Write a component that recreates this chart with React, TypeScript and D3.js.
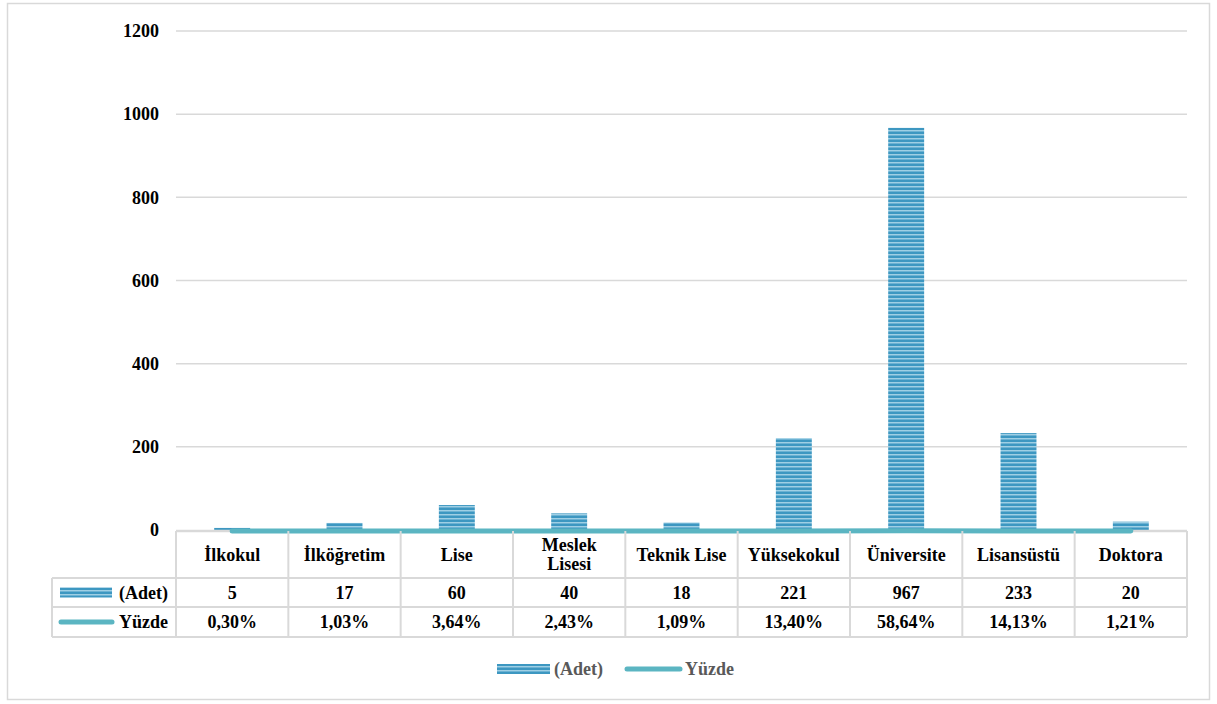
import React from "react";
import * as d3 from "d3";

const categories = ["İlkokul", "İlköğretim", "Lise", "Meslek\nLisesi", "Teknik Lise", "Yüksekokul", "Üniversite", "Lisansüstü", "Doktora"];
const adet = [5, 17, 60, 40, 18, 221, 967, 233, 20];
const yuzde = [0.0030, 0.0103, 0.0364, 0.0243, 0.0109, 0.1340, 0.5864, 0.1413, 0.0121];
const yuzdeLabels = ["0,30%", "1,03%", "3,64%", "2,43%", "1,09%", "13,40%", "58,64%", "14,13%", "1,21%"];
const yTicks = [0, 200, 400, 600, 800, 1000, 1200];

const W = 1217, H = 704;
const left = 176, right = 1187, top = 31, bottom = 530;
const rowTop = 531, row1 = 578, row2 = 607, row3 = 637, legLeft = 52;
const FONT = "'Liberation Serif', 'Times New Roman', 'DejaVu Serif', serif";
const LINE = "#5BB5C2";
const GRID = "#d9d9d9";
const FS = 18;

export default function App() {
  const x = d3.scaleBand<string>().domain(categories).range([left, right]).padding(0);
  const y = d3.scaleLinear().domain([0, 1200]).range([bottom, top]);
  const bw = x.bandwidth();
  const barW = bw * 0.32;
  const line = d3.line<number>()
    .x((_, i) => (x(categories[i]) as number) + bw / 2)
    .y((d) => y(d) + 1);

  return (
    <svg width={W} height={H} style={{ position: "absolute", left: 0, top: 0, fontFamily: FONT }}>
      <defs>
        <pattern id="stripes" patternUnits="userSpaceOnUse" width={8} height={4}>
          <rect width={8} height={4} fill="#3d97c1" />
          <rect y={2} width={8} height={1} fill="#9fcfe4" />
          <rect y={3} width={8} height={1} fill="#6cb2d3" />
        </pattern>
      </defs>
      <rect x={7.5} y={3.5} width={1202} height={696} fill="#fff" stroke={GRID} strokeWidth={1.5} />
      {yTicks.map((t) => (
        <g key={t}>
          {t > 0 && <line x1={left} x2={right} y1={y(t)} y2={y(t)} stroke={GRID} strokeWidth={1.5} />}
          <text x={159} y={y(t)} dy="0.35em" textAnchor="end" fontSize={FS} fontWeight="bold" fill="#000">{t}</text>
        </g>
      ))}
      {adet.map((v, i) => {
        const cx = (x(categories[i]) as number) + bw / 2;
        return <rect key={i} x={cx - barW / 2} y={y(v)} width={barW} height={bottom - y(v)} fill="url(#stripes)" />;
      })}
      <line x1={left} x2={right} y1={bottom + 1} y2={bottom + 1} stroke={GRID} strokeWidth={2.5} />
      <path d={line(yuzde) || ""} fill="none" stroke={LINE} strokeWidth={5} strokeLinecap="round" />
      <g stroke={GRID} strokeWidth={2}>
        {categories.map((c, i) => (
          <line key={i} x1={x(c) as number} x2={x(c) as number} y1={rowTop} y2={row3} />
        ))}
        <line x1={right} x2={right} y1={rowTop} y2={row3} />
        <line x1={legLeft} x2={legLeft} y1={row1} y2={row3} />
        <line x1={legLeft} x2={right} y1={row1} y2={row1} />
        <line x1={legLeft} x2={right} y1={row2} y2={row2} />
        <line x1={legLeft} x2={right} y1={row3} y2={row3} />
      </g>
      {categories.map((c, i) => {
        const cx = (x(c) as number) + bw / 2;
        const lines = c.split("\n");
        const cy = (rowTop + row1) / 2;
        return (
          <g key={i} fontSize={FS} fontWeight="bold" textAnchor="middle" fill="#000">
            {lines.map((l, j) => (
              <text key={j} x={cx} y={cy + (j - (lines.length - 1) / 2) * 19} dy="0.35em">{l}</text>
            ))}
            <text x={cx} y={(row1 + row2) / 2} dy="0.35em">{adet[i]}</text>
            <text x={cx} y={(row2 + row3) / 2} dy="0.35em">{yuzdeLabels[i]}</text>
          </g>
        );
      })}
      <rect x={60} y={(row1 + row2) / 2 - 5} width={52} height={10} fill="url(#stripes)" />
      <text x={168} y={(row1 + row2) / 2} dy="0.35em" textAnchor="end" fontSize={FS} fontWeight="bold" fill="#000">(Adet)</text>
      <line x1={61} x2={112} y1={(row2 + row3) / 2} y2={(row2 + row3) / 2} stroke={LINE} strokeWidth={5} strokeLinecap="round" />
      <text x={168} y={(row2 + row3) / 2} dy="0.35em" textAnchor="end" fontSize={FS} fontWeight="bold" fill="#000">Yüzde</text>
      <rect x={497} y={664} width={53} height={10} fill="url(#stripes)" />
      <text x={554} y={669} dy="0.35em" fontSize={FS} fontWeight="bold" fill="#595959">(Adet)</text>
      <line x1={627} x2={680} y1={669} y2={669} stroke={LINE} strokeWidth={5} strokeLinecap="round" />
      <text x={685} y={669} dy="0.35em" fontSize={FS} fontWeight="bold" fill="#595959">Yüzde</text>
    </svg>
  );
}
